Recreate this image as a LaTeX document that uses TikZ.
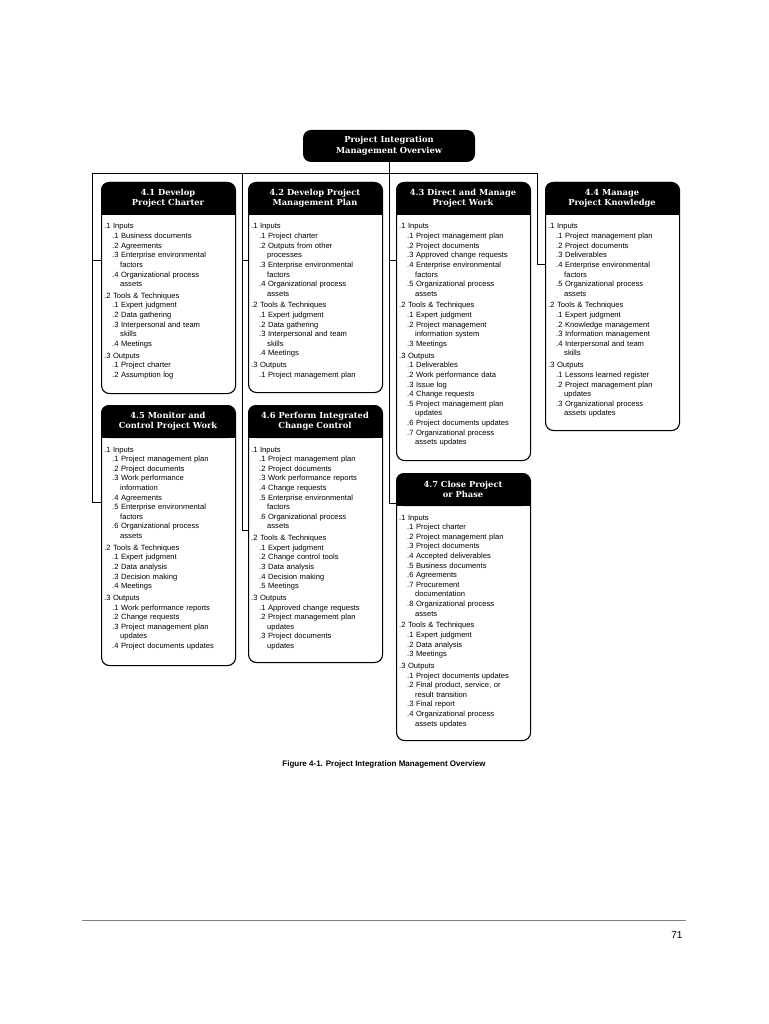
\documentclass[tikz,border=0pt]{standalone}
\usepackage{fontspec}
\setmainfont{Liberation Sans}
\newfontfamily\slab{DejaVu Serif}
\usetikzlibrary{positioning}

\newcommand\la[1]{\par\vspace{2.2pt}\noindent#1}
\newcommand\lb[1]{\par\noindent\hspace*{8pt}#1}
\newcommand\lc[1]{\par\noindent\hspace*{16pt}#1}

\tikzset{
  conn/.style={line width=0.6pt},
  boxfrm/.style={draw, line width=1.1pt, rounded corners=8pt, inner sep=0pt},
  boxttl/.style={text=white, align=center, font=\slab\bfseries\fontsize{8.3}{10.5}\selectfont},
  boxtxt/.style={text width=130pt, align=left, inner sep=0pt,
    font=\fontsize{7.6}{9.6}\selectfont}
}

% name, x, y, height, title, body
\newcommand\procbox[6]{%
  \fill[rounded corners=8pt] (#2,#3) rectangle ++(134,33);
  \fill (#2,#3+20) rectangle ++(134,13);
  \node[boxfrm, anchor=north west, minimum width=134pt, minimum height=#4pt] (#1) at (#2,#3) {};
  \node[boxttl] (#1t) at (#2+67,#3+16.5) {#5};
  \node[boxtxt, anchor=north west] (#1b) at (#2+3,#3+35) {#6};
}

\begin{document}
\begin{tikzpicture}[x=1pt,y=-1pt]
\useasboundingbox (0,0) rectangle (768,1024);

% top node
\node[fill, rounded corners=8pt, minimum width=172pt, minimum height=32pt, inner sep=0pt,
  boxttl] (top) at (389,146) {Project Integration\\Management Overview};

\procbox{p1}{101}{182}{211}{4.1 Develop\\Project Charter}{%
\la{.1 Inputs}\lb{.1 Business documents}\lb{.2 Agreements}\lb{.3 Enterprise environmental}\lc{factors}\lb{.4 Organizational process}\lc{assets}
\la{.2 Tools \& Techniques}\lb{.1 Expert judgment}\lb{.2 Data gathering}\lb{.3 Interpersonal and team}\lc{skills}\lb{.4 Meetings}
\la{.3 Outputs}\lb{.1 Project charter}\lb{.2 Assumption log}}

\procbox{p2}{248}{182}{210}{4.2 Develop Project\\Management Plan}{%
\la{.1 Inputs}\lb{.1 Project charter}\lb{.2 Outputs from other}\lc{processes}\lb{.3 Enterprise environmental}\lc{factors}\lb{.4 Organizational process}\lc{assets}
\la{.2 Tools \& Techniques}\lb{.1 Expert judgment}\lb{.2 Data gathering}\lb{.3 Interpersonal and team}\lc{skills}\lb{.4 Meetings}
\la{.3 Outputs}\lb{.1 Project management plan}}

\procbox{p3}{396}{182}{278}{4.3 Direct and Manage\\Project Work}{%
\la{.1 Inputs}\lb{.1 Project management plan}\lb{.2 Project documents}\lb{.3 Approved change requests}\lb{.4 Enterprise environmental}\lc{factors}\lb{.5 Organizational process}\lc{assets}
\la{.2 Tools \& Techniques}\lb{.1 Expert judgment}\lb{.2 Project management}\lc{information system}\lb{.3 Meetings}
\la{.3 Outputs}\lb{.1 Deliverables}\lb{.2 Work performance data}\lb{.3 Issue log}\lb{.4 Change requests}\lb{.5 Project management plan}\lc{updates}\lb{.6 Project documents updates}\lb{.7 Organizational process}\lc{assets updates}}

\procbox{p4}{545}{182}{248}{4.4 Manage\\Project Knowledge}{%
\la{.1 Inputs}\lb{.1 Project management plan}\lb{.2 Project documents}\lb{.3 Deliverables}\lb{.4 Enterprise environmental}\lc{factors}\lb{.5 Organizational process}\lc{assets}
\la{.2 Tools \& Techniques}\lb{.1 Expert judgment}\lb{.2 Knowledge management}\lb{.3 Information management}\lb{.4 Interpersonal and team}\lc{skills}
\la{.3 Outputs}\lb{.1 Lessons learned register}\lb{.2 Project management plan}\lc{updates}\lb{.3 Organizational process}\lc{assets updates}}

\procbox{p5}{101}{405}{260}{4.5 Monitor and\\Control Project Work}{%
\la{.1 Inputs}\lb{.1 Project management plan}\lb{.2 Project documents}\lb{.3 Work performance}\lc{information}\lb{.4 Agreements}\lb{.5 Enterprise environmental}\lc{factors}\lb{.6 Organizational process}\lc{assets}
\la{.2 Tools \& Techniques}\lb{.1 Expert judgment}\lb{.2 Data analysis}\lb{.3 Decision making}\lb{.4 Meetings}
\la{.3 Outputs}\lb{.1 Work performance reports}\lb{.2 Change requests}\lb{.3 Project management plan}\lc{updates}\lb{.4 Project documents updates}}

\procbox{p6}{248}{405}{257}{4.6 Perform Integrated\\Change Control}{%
\la{.1 Inputs}\lb{.1 Project management plan}\lb{.2 Project documents}\lb{.3 Work performance reports}\lb{.4 Change requests}\lb{.5 Enterprise environmental}\lc{factors}\lb{.6 Organizational process}\lc{assets}
\la{.2 Tools \& Techniques}\lb{.1 Expert judgment}\lb{.2 Change control tools}\lb{.3 Data analysis}\lb{.4 Decision making}\lb{.5 Meetings}
\la{.3 Outputs}\lb{.1 Approved change requests}\lb{.2 Project management plan}\lc{updates}\lb{.3 Project documents}\lc{updates}}

\procbox{p7}{396}{473}{267}{4.7 Close Project\\or Phase}{%
\la{.1 Inputs}\lb{.1 Project charter}\lb{.2 Project management plan}\lb{.3 Project documents}\lb{.4 Accepted deliverables}\lb{.5 Business documents}\lb{.6 Agreements}\lb{.7 Procurement}\lc{documentation}\lb{.8 Organizational process}\lc{assets}
\la{.2 Tools \& Techniques}\lb{.1 Expert judgment}\lb{.2 Data analysis}\lb{.3 Meetings}
\la{.3 Outputs}\lb{.1 Project documents updates}\lb{.2 Final product, service, or}\lc{result transition}\lb{.3 Final report}\lb{.4 Organizational process}\lc{assets updates}}

% connectors
\coordinate (busL) at (92,173);
\coordinate (busR) at (537,173);
\coordinate (c2) at (242,173);
\coordinate (c3) at (389,173);
\draw[conn] (top.south) -- (c3);
\draw[conn] (busL) -- (busR);
\draw[conn] (busL) |- (p5.west |- 0,502);
\draw[conn] (busL |- 0,260) -- (p1.west |- 0,260);
\draw[conn] (c2) |- (p6.west |- 0,530);
\draw[conn] (c2 |- 0,260) -- (p2.west |- 0,260);
\draw[conn] (c3) |- (p7.west |- 0,503);
\draw[conn] (c3 |- 0,260) -- (p3.west |- 0,260);
\draw[conn] (busR) |- (p4.west |- 0,264);

% caption and page
\node[font=\bfseries\fontsize{8}{10}\selectfont] (cap) at (384,764) {Figure 4-1. Project Integration Management Overview};
\coordinate (ruleL) at (82,920);
\coordinate (ruleR) at (686,920);
\draw[line width=0.4pt, gray] (ruleL) -- (ruleR);
\node[font=\fontsize{10}{12}\selectfont, anchor=east] (pg) at (686,935) {71};
\end{tikzpicture}
\end{document}
